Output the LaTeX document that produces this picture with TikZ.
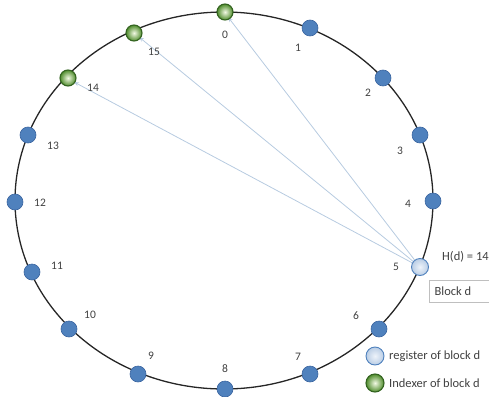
\documentclass[tikz,border=0pt]{standalone}
\usepackage{fontspec}
\setmainfont{Carlito}
\usetikzlibrary{arrows.meta}
\definecolor{dotblue}{HTML}{4F81BD}
\definecolor{dotedge}{HTML}{3A65A0}
\definecolor{reglight}{HTML}{EEF3FA}
\definecolor{regmid}{HTML}{B9CDE5}
\definecolor{greenin}{HTML}{F2F9E4}
\definecolor{greenout}{HTML}{4F8C2C}
\definecolor{greenedge}{HTML}{336320}
\definecolor{linkblue}{HTML}{B7CBE0}
\definecolor{txtgray}{HTML}{404040}
\tikzset{
  x=1pt, y=-1pt,
  ring/.style={line width=1.3pt, black!85},
  peer/.style={circle, minimum size=16pt, inner sep=0pt, fill=dotblue, draw=dotedge, line width=0.6pt},
  register/.style={circle, minimum size=17pt, inner sep=0pt, draw=dotblue, line width=0.9pt,
    inner color=reglight, outer color=regmid},
  indexer/.style={circle, minimum size=16pt, inner sep=0pt, draw=greenedge, line width=1.1pt,
    inner color=greenin, outer color=greenout},
  idlabel/.style={font=\fontsize{11.5}{13}\selectfont, text=txtgray, inner sep=0pt},
  link/.style={linkblue, line width=0.8pt, -{Stealth[length=5pt,width=4pt]}},
  legendtext/.style={font=\fontsize{12.5}{14}\selectfont, text=txtgray, anchor=west, inner sep=0pt},
}
\begin{document}
\begin{tikzpicture}
\useasboundingbox (0,0) rectangle (489,396);
% the identifier ring
\draw[ring] (224,200.5) ellipse [x radius=209, y radius=188.5];

% links from the register to the indexers
\coordinate (c5) at (420,267);
\draw[link] (c5) -- (228,17);
\draw[link] (c5) -- (139,37);
\draw[link] (c5) -- (74,82);

% peers on the ring
\node[indexer] (n0) at (225,12) {};
\node[peer] (n1) at (310,28) {};
\node[peer] (n2) at (383,78) {};
\node[peer] (n3) at (420,135) {};
\node[peer] (n4) at (433,201) {};
\node[register] (n5) at (c5) {};
\node[peer] (n6) at (379,329) {};
\node[peer] (n7) at (310,374) {};
\node[peer] (n8) at (225,389) {};
\node[peer] (n9) at (138,374) {};
\node[peer] (n10) at (69,329) {};
\node[peer] (n11) at (32,272) {};
\node[peer] (n12) at (15,202) {};
\node[peer] (n13) at (28,135) {};
\node[indexer] (n14) at (68,78) {};
\node[indexer] (n15) at (134,33) {};

% identifiers
\node[idlabel] (l0) at (225,35) {0};
\node[idlabel] (l1) at (298,48) {1};
\node[idlabel] (l2) at (368,93) {2};
\node[idlabel] (l3) at (400,151) {3};
\node[idlabel] (l4) at (408,204) {4};
\node[idlabel] (l5) at (396,267) {5};
\node[idlabel] (l6) at (356,316) {6};
\node[idlabel] (l7) at (298,357) {7};
\node[idlabel] (l8) at (225,369) {8};
\node[idlabel] (l9) at (151,356) {9};
\node[idlabel] (l10) at (90,315) {10};
\node[idlabel] (l11) at (57,266) {11};
\node[idlabel] (l12) at (40,203) {12};
\node[idlabel] (l13) at (53,146) {13};
\node[idlabel] (l14) at (93,88) {14};
\node[idlabel] (l15) at (154,52) {15};

% hash and block annotation
\node[legendtext] (hash) at (442,257) {H(d) = 14};
\node[draw=black!25, line width=0.6pt, minimum width=60pt, minimum height=22pt, inner sep=0pt,
      font=\fontsize{12.5}{14}\selectfont, text=txtgray] (block) at (459,291) {\hspace*{-12pt}Block d};

% legend
\node[register, minimum size=18pt] (legreg) at (375,356) {};
\node[legendtext] (legregtext) at (389,356) {register of block d};
\node[indexer, minimum size=18pt] (legidx) at (375,383) {};
\node[legendtext] (legidxtext) at (389,383) {Indexer of block d};
\end{tikzpicture}
\end{document}
